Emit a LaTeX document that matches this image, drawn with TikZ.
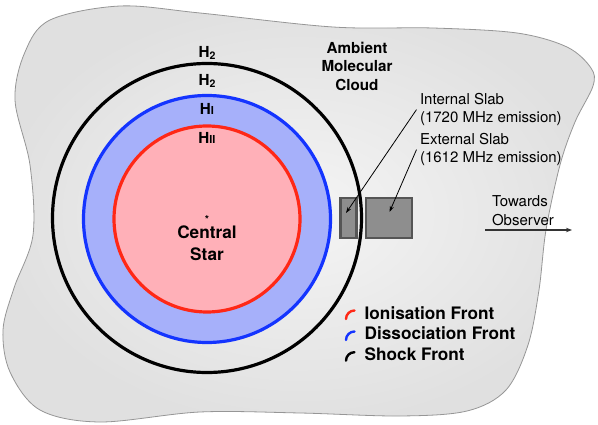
\documentclass[tikz,border=0pt]{standalone}
\usepackage{fontspec}
\setmainfont{TeX Gyre Heros}
\usetikzlibrary{arrows.meta}
\definecolor{cloudedge}{RGB}{150,150,150}
\definecolor{ringblue}{RGB}{20,52,255}
\definecolor{ringbluefill}{RGB}{166,176,250}
\definecolor{ringred}{RGB}{255,40,22}
\definecolor{ringredfill}{RGB}{255,176,184}
\definecolor{slabfill}{RGB}{142,142,142}
\definecolor{slabedge}{RGB}{85,85,85}
\tikzset{
  regionlabel/.style={font=\fontsize{15.2}{18.5}\selectfont\bfseries, align=center, anchor=base, inner sep=0pt},
  starlabel/.style={font=\fontsize{17.2}{22}\selectfont\bfseries, align=center, anchor=base, inner sep=0pt},
  slablabel/.style={font=\fontsize{15}{18.7}\selectfont, align=left, anchor=base west},
  legendlabel/.style={font=\fontsize{17.2}{20}\selectfont\bfseries, anchor=base west, inner sep=0pt},
  slabbox/.style={draw=slabedge, fill=slabfill, line width=2.7pt},
  pointer/.style={line width=0.8pt, -{Stealth[length=6pt,width=4pt]}},
  front/.style={line width=3.2pt},
  legarc/.style={line width=2.4pt, line cap=round}
}
\newcommand{\smI}{{\fontsize{11}{11}\selectfont I}}
\newcommand{\subtwo}{\raisebox{-0.12em}{\fontsize{10.5}{10.5}\selectfont 2}}
\begin{document}
\begin{tikzpicture}[x=1pt,y=-1pt]
\useasboundingbox (0,0) rectangle (598,425);
% ambient cloud
\shade[inner color=white!96!black, outer color=white!88!black]
  plot[smooth cycle, tension=0.55] coordinates {
  (50,20) (120,6) (200,13) (333,27) (433,28) (517,33) (567,47) (591,68) (593,86)
  (575,122) (560,165) (546,230) (539,290) (528,345) (506,390) (467,411)
  (400,416) (300,413) (200,412) (100,422) (40,410) (10,372) (3,330) (14,288)
  (33,235) (30,165) (15,100) (25,52)};
\draw[cloudedge, line width=0.8pt]
  plot[smooth cycle, tension=0.55] coordinates {
  (50,20) (120,6) (200,13) (333,27) (433,28) (517,33) (567,47) (591,68) (593,86)
  (575,122) (560,165) (546,230) (539,290) (528,345) (506,390) (467,411)
  (400,416) (300,413) (200,412) (100,422) (40,410) (10,372) (3,330) (14,288)
  (33,235) (30,165) (15,100) (25,52)};
% fronts
\draw[front, black] (207,218) circle[radius=154.5];
\draw[front, ringblue, fill=ringbluefill] (207,219) circle[radius=123.5];
\draw[front, ringred, fill=ringredfill] (207,219) circle[radius=93];
% region labels
\node[regionlabel] (h2out) at (207,57.5) {H\subtwo};
\node[regionlabel] (h2in) at (207,85.5) {H\subtwo};
\node[regionlabel] (hone) at (207,114.5) {H\smI};
\node[regionlabel] (htwo) at (207,143.5) {H\smI\smI};
\node[font=\fontsize{11}{11}\selectfont\bfseries, inner sep=0pt] (star) at (207,219) {*};
\node[starlabel] (central) at (207,260.5) {Central\\Star};
\node[regionlabel] (amc) at (357,90.4) {Ambient\\Molecular\\Cloud};
% slabs
\node[slabbox, minimum width=16pt, minimum height=40pt, inner sep=0pt] (inslab) at (348.5,218) {};
\node[slabbox, minimum width=46pt, minimum height=40pt, inner sep=0pt] (exslab) at (389,218) {};
\coordinate (intip) at (346,213);
\coordinate (extip) at (389.5,212);
\node[slablabel] (inlabel) at (416.5,123) {Internal Slab\\(1720 MHz emission)};
\node[slablabel] (exlabel) at (416.5,163) {External Slab\\(1612 MHz emission)};
\draw[pointer] (inlabel.west) -- (intip);
\draw[pointer] (exlabel.west) -- (extip);
% observer
\node[slablabel] (obs) at (488.5,225.7) {Towards\\Observer};
\coordinate (obsstart) at (485,230);
\coordinate (obsend) at (572,230);
\draw[line width=1.3pt, black!80, -{Stealth[length=6pt,width=4.5pt]}] (obsstart) -- (obsend);
% legend
\node[legendlabel] (legion) at (364.5,319.3) {Ionisation Front};
\node[legendlabel] (legdis) at (364.5,340) {Dissociation Front};
\node[legendlabel] (legshk) at (364.5,360.7) {Shock Front};
\draw[legarc, ringred] (346,319) arc[start angle=180, end angle=270, radius=8.5];
\draw[legarc, ringblue] (346,340) arc[start angle=180, end angle=270, radius=8.5];
\draw[legarc, black] (346,360.7) arc[start angle=180, end angle=270, radius=8.5];
\end{tikzpicture}
\end{document}
